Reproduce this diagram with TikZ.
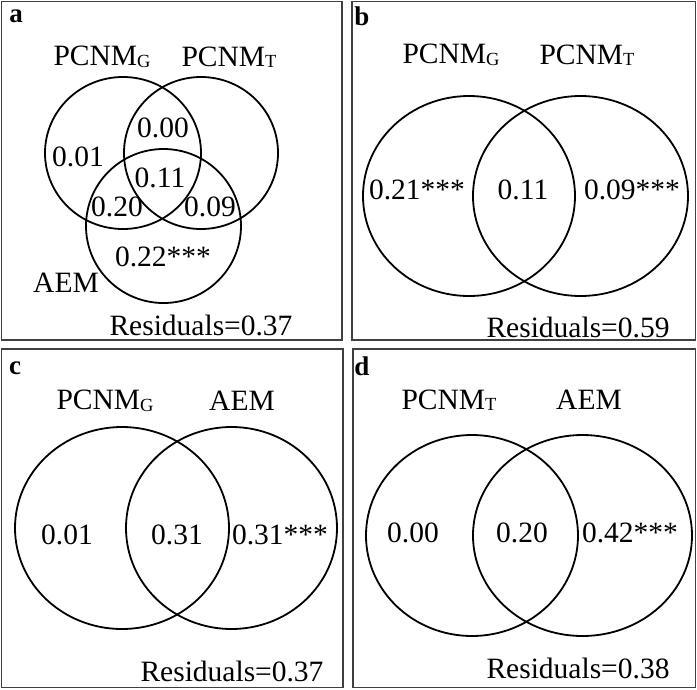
\documentclass[tikz,border=0pt]{standalone}
\usepackage{fontspec}
\setmainfont{Liberation Serif}
\newcommand\mysub[1]{\raisebox{-1.5pt}{\fontsize{18.5}{18.5}\selectfont #1}}
\tikzset{
  frame/.style={draw=black!75, line width=1.3pt},
  venn/.style={draw=black, line width=1.8pt},
  lbl/.style={inner sep=0pt, font=\fontsize{29.5}{30}\selectfont},
  panel/.style={inner sep=0pt, font=\fontsize{27}{27}\selectfont\bfseries},
}
\begin{document}
\begin{tikzpicture}[x=1pt,y=-1pt]
\useasboundingbox (0,0) rectangle (697,689);
% frames
\draw[frame] (1.5,1.5) rectangle (342,340);
\draw[frame] (352,1.5) rectangle (695.5,340);
\draw[frame] (1.5,349) rectangle (343,687.5);
\draw[frame] (353,349) rectangle (695.5,687.5);

% panel a
\draw[venn] (123,153) ellipse [x radius=78, y radius=76];
\draw[venn] (201,153) ellipse [x radius=77, y radius=76];
\draw[venn] (163.5,226) ellipse [x radius=77.5, y radius=77];
\node[panel] (pa) at (16,16) {a};
\node[lbl] (aG) at (102,57) {PCNM\mysub{G}};
\node[lbl] (aT) at (229,57) {PCNM\mysub{T}};
\node[lbl] (a00) at (163,128) {0.00};
\node[lbl] (a01) at (78,157) {0.01};
\node[lbl] (a11) at (160,178) {0.11};
\node[lbl] (a20) at (117,207) {0.20};
\node[lbl] (a09) at (210,207) {0.09};
\node[lbl] (a22) at (163,257) {0.22***};
\node[lbl] (aA) at (66,283) {AEM};
\node[lbl] (aR) at (201,325) {Residuals=0.37};

% panel b
\draw[venn] (469,196) ellipse [x radius=106, y radius=100];
\draw[venn] (580.5,196) ellipse [x radius=107.5, y radius=100];
\node[panel] (pb) at (362,16) {b};
\node[lbl] (bG) at (451,55) {PCNM\mysub{G}};
\node[lbl] (bT) at (587,55) {PCNM\mysub{T}};
\node[lbl] (b21) at (417,190) {0.21***};
\node[lbl] (b11) at (523,190) {0.11};
\node[lbl] (b09) at (632,190) {0.09***};
\node[lbl] (bR) at (578,327) {Residuals=0.59};

% panel c
\draw[venn] (122,528) ellipse [x radius=107, y radius=101];
\draw[venn] (231.5,528) ellipse [x radius=105.5, y radius=101];
\node[panel] (pc) at (15,368) {c};
\node[lbl] (cG) at (105,401) {PCNM\mysub{G}};
\node[lbl] (cA) at (242,401) {AEM};
\node[lbl] (c01) at (67,535) {0.01};
\node[lbl] (c31) at (177,535) {0.31};
\node[lbl] (c31s) at (280,535) {0.31***};
\node[lbl] (cR) at (232,671) {Residuals=0.37};

% panel d
\draw[venn] (472,535.5) ellipse [x radius=106, y radius=100.5];
\draw[venn] (582.5,535.5) ellipse [x radius=109.5, y radius=100.5];
\node[panel] (pd) at (362,366) {d};
\node[lbl] (dT) at (449,400) {PCNM\mysub{T}};
\node[lbl] (dA) at (589,400) {AEM};
\node[lbl] (d00) at (413,533) {0.00};
\node[lbl] (d20) at (522,533) {0.20};
\node[lbl] (d42) at (630,533) {0.42***};
\node[lbl] (dR) at (578,668) {Residuals=0.38};
\end{tikzpicture}
\end{document}
